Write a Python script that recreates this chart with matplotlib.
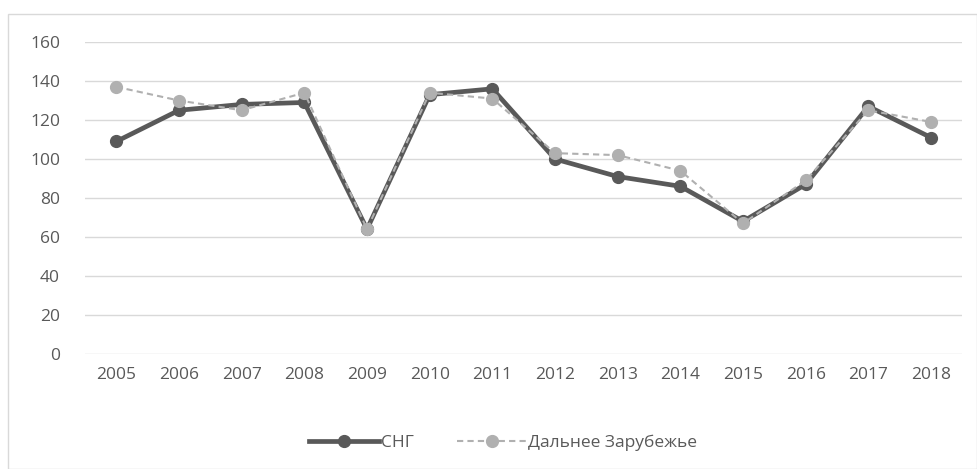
import matplotlib.pyplot as plt
from matplotlib.patches import Rectangle

plt.rcParams['font.family'] = ['Open Sans', 'DejaVu Sans']

years = ['2005', '2006', '2007', '2008', '2009', '2010', '2011',
         '2012', '2013', '2014', '2015', '2016', '2017', '2018']
sng = [109, 125, 128, 129, 64, 133, 136, 100, 91, 86, 68, 87, 127, 111]
far_abroad = [137, 130, 125, 134, 64, 134, 131, 103, 102, 94, 67, 89, 125, 119]
yticks = [0, 20, 40, 60, 80, 100, 120, 140, 160]

text_color = '#595959'

fig = plt.figure(figsize=(9.77, 4.69), dpi=100)
# outer chart border
fig.patches.append(Rectangle((8 / 977, 0), 1 - 8 / 977, 1 - 14 / 469,
                             transform=fig.transFigure, fill=False,
                             edgecolor='#d9d9d9', linewidth=1))

ax = fig.add_axes([0.087, 0.2452, 0.898, 0.6652])
x = list(range(len(years)))

ax.plot(x, sng, color='#595959', linewidth=3.4, marker='o', markersize=8.5,
        label='СНГ', zorder=3)
ax.plot(x, far_abroad, color='#b0b0b0', linewidth=1.5, linestyle='--',
        dashes=(3, 2), marker='o', markersize=8.5, markeredgecolor='#b0b0b0',
        label='Дальнее Зарубежье', zorder=4)

ax.set_xlim(-0.5, len(years) - 0.5)
ax.set_ylim(0, 160)
ax.set_xticks(x)
ax.set_xticklabels(years)
ax.set_yticks(yticks)
ax.tick_params(axis='both', length=0, labelsize=12.5, labelcolor=text_color)
ax.tick_params(axis='y', pad=18)
ax.tick_params(axis='x', pad=9)
ax.grid(axis='y', color='#d9d9d9', linewidth=1)
ax.set_axisbelow(True)
for s in ax.spines.values():
    s.set_visible(False)

leg = fig.legend(loc='center', bbox_to_anchor=(0.515, 0.055), ncol=2,
                 frameon=False, fontsize=12.5, handlelength=4.0,
                 columnspacing=2.5, handletextpad=0.1)
for t in leg.get_texts():
    t.set_color(text_color)

fig.savefig('out.png', dpi=100)
